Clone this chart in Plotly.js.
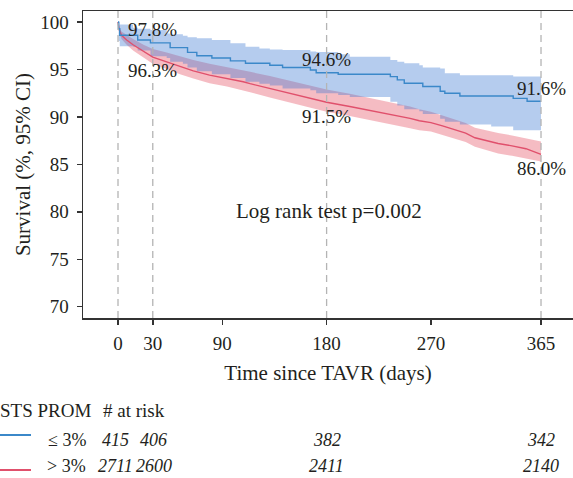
<!DOCTYPE html>
<html>
<head>
<meta charset="utf-8">
<script src="https://cdn.plot.ly/plotly-3.0.1.min.js"></script>
<style>
html,body{margin:0;padding:0;background:#fff;}
#chart{width:573px;height:478px;}
</style>
</head>
<body>
<div id="chart"></div>
<script>
// ---- Data ----
// STS PROM <= 3% (step KM curve with 95% CI)
const blueDays  = [0, 0.5, 1.5, 13, 17, 28, 42, 45, 56, 60, 68, 81, 97, 110, 122, 131, 142, 166, 171, 190, 200, 235, 241, 247, 260, 263, 278, 282, 295, 322, 341, 353, 365];
const blueSurv  = [100, 99.3, 98.6, 98.6, 98.1, 97.8, 97.8, 97.3, 97.3, 96.8, 96.45, 96.2, 95.9, 95.65, 95.65, 95.45, 95.2, 94.95, 94.65, 94.5, 94.5, 94.25, 93.9, 93.55, 93.55, 93.2, 92.7, 92.5, 92.2, 92.2, 91.95, 91.65, 91.65];
const blueUpper = [100, 100, 99.75, 99.4, 99.3, 99.15, 98.8, 98.7, 98.56, 98.4, 98.28, 98.1, 97.75, 97.4, 97.2, 97.1, 97.05, 96.9, 96.85, 96.6, 96.35, 96.0, 95.8, 95.65, 95.45, 95.2, 95.1, 94.6, 94.4, 94.4, 94.25, 94.25, 94.25];
const blueLower = [100, 98.0, 97.45, 97.4, 97.0, 96.4, 96.2, 95.8, 95.6, 95.2, 94.8, 94.5, 94.1, 93.7, 93.5, 93.3, 93.0, 92.8, 92.5, 92.3, 92.1, 91.6, 91.2, 90.8, 90.6, 90.3, 89.8, 89.5, 89.2, 89.0, 88.6, 88.6, 88.6];

// STS PROM > 3%
const redDays  = [0, 1, 3, 7.5, 13, 22, 30, 42, 53.5, 65, 79, 94, 108, 114, 131, 148, 166, 180, 200, 217, 235, 252, 260, 270, 280, 290, 300, 308, 318, 328, 340, 352, 365];
const redSurv  = [100, 99.2, 98.6, 98.1, 97.6, 96.9, 96.3, 95.8, 95.3, 94.85, 94.4, 94.05, 93.7, 93.5, 93.0, 92.5, 92.0, 91.55, 91.1, 90.7, 90.2, 89.85, 89.6, 89.4, 89.05, 88.7, 88.3, 87.8, 87.5, 87.2, 86.95, 86.65, 86.05];
const redUpper = [100, 99.5, 99.0, 98.65, 98.2, 97.6, 97.15, 96.8, 96.4, 96.0, 95.6, 95.25, 94.95, 94.75, 94.3, 93.8, 93.3, 92.9, 92.45, 92.0, 91.5, 91.1, 90.8, 90.55, 90.15, 89.75, 89.35, 88.85, 88.55, 88.3, 88.05, 87.75, 87.4];
const redLower = [100, 98.9, 98.2, 97.6, 97.0, 96.3, 95.6, 95.05, 94.5, 94.05, 93.55, 93.2, 92.8, 92.6, 92.05, 91.55, 91.0, 90.55, 90.1, 89.7, 89.2, 88.8, 88.6, 88.45, 88.1, 87.75, 87.35, 86.85, 86.5, 86.15, 85.9, 85.65, 85.3];

// Labelled survival estimates
const labelDays = [30, 30, 180, 180, 365, 365];
const labelVals = [97.8, 96.3, 94.6, 91.5, 91.6, 86.0];
const labelSide = [1, -1, 1, -1, 1, -1];

// Reference (dashed) lines and axis ticks
const refDays = [0, 30, 180, 365];
const xTicks = [0, 30, 90, 180, 270, 365];
const yTicks = [70, 75, 80, 85, 90, 95, 100];

// Number at risk table
const riskDays = [0, 30, 180, 365];
const riskLow  = [415, 406, 382, 342];
const riskHigh = [2711, 2600, 2411, 2140];
const groupNames = ['\u2264 3%', '> 3%'];

const logRankText = 'Log rank test p=0.002';

// ---- Styles ----
const FONT = 'Liberation Serif, Times New Roman, serif';
const TXT = '#231f20';
const BLUE = '#3b88c9';
const RED = '#e0506c';
const BLUE_FILL = 'rgba(60,120,210,0.38)';
const RED_FILL = 'rgba(228,70,90,0.36)';
const riskShift = [-3, 1, 0, 0];   // small horizontal nudges of the table columns (px)

const traces = [
  {x: redDays, y: redLower, mode: 'lines', line: {width: 0, color: RED}, hoverinfo: 'skip', showlegend: false},
  {x: redDays, y: redUpper, mode: 'lines', line: {width: 0, color: RED}, fill: 'tonexty', fillcolor: RED_FILL, hoverinfo: 'skip', showlegend: false},
  {x: blueDays, y: blueLower, mode: 'lines', line: {width: 0, color: BLUE, shape: 'hv'}, hoverinfo: 'skip', showlegend: false},
  {x: blueDays, y: blueUpper, mode: 'lines', line: {width: 0, color: BLUE, shape: 'hv'}, fill: 'tonexty', fillcolor: BLUE_FILL, hoverinfo: 'skip', showlegend: false},
  {x: redDays, y: redSurv, mode: 'lines', line: {width: 1.4, color: RED}, showlegend: false},
  {x: blueDays, y: blueSurv, mode: 'lines', line: {width: 1.4, color: BLUE, shape: 'hv'}, showlegend: false}
];

const W = 573, H = 478;
const M = {l: 83, r: 0, t: 11, b: 160};
const plotW = W - M.l - M.r, plotH = H - M.t - M.b;
const px2paperX = px => (px - M.l) / plotW;
const py2paperY = py => (H - M.b - py) / plotH;

const shapes = refDays.map(d => ({
  type: 'line', xref: 'x', yref: 'paper', x0: d, x1: d, y0: 0, y1: 1,
  line: {color: '#b4b4b4', width: 1.3, dash: '7px,5px'}
}));

const rowY = [py2paperY(440), py2paperY(466)];
const lineY = [py2paperY(435), py2paperY(470)];
[BLUE, RED].forEach((c, i) => {
  shapes.push({type: 'line', xref: 'paper', yref: 'paper', x0: px2paperX(-2), x1: px2paperX(31), y0: lineY[i], y1: lineY[i], line: {color: c, width: 2}});
});

const annotations = [];
labelDays.forEach((d, i) => {
  annotations.push({x: d, y: labelVals[i], xref: 'x', yref: 'y', text: labelVals[i].toFixed(1) + '%', showarrow: false,
    yshift: 13.5 * labelSide[i], xanchor: 'center', yanchor: 'middle', font: {family: FONT, size: 19, color: TXT}});
});
annotations.push({x: 182, y: 80.1, xref: 'x', yref: 'y', text: logRankText, showarrow: false, font: {family: FONT, size: 21, color: TXT}});

// risk table
annotations.push({x: px2paperX(93), y: py2paperY(410.5), xref: 'paper', yref: 'paper', text: 'STS PROM', showarrow: false, xanchor: 'right', yanchor: 'middle', font: {family: FONT, size: 19, color: TXT}});
annotations.push({x: px2paperX(101), y: py2paperY(410.5), xref: 'paper', yref: 'paper', text: '# at risk', showarrow: false, xanchor: 'left', yanchor: 'middle', font: {family: FONT, size: 19, color: TXT}});
groupNames.forEach((g, i) => {
  annotations.push({x: px2paperX(87), y: rowY[i], xref: 'paper', yref: 'paper', text: g, showarrow: false, xanchor: 'right', yanchor: 'middle', borderpad: 0, font: {family: FONT, size: 18, color: TXT}});
});
[riskLow, riskHigh].forEach((row, i) => {
  row.forEach((n, j) => {
    annotations.push({x: riskDays[j], y: rowY[i], xref: 'x', yref: 'paper', xshift: riskShift[j], text: '<i>' + n + '</i>', showarrow: false, xanchor: 'center', yanchor: 'middle', borderpad: 0, font: {family: FONT, size: 18, color: TXT}});
  });
});

const layout = {
  width: W, height: H,
  margin: M,
  paper_bgcolor: '#fff', plot_bgcolor: '#fff',
  showlegend: false,
  font: {family: FONT, size: 19, color: TXT},
  xaxis: {
    range: [-30.2, 392.6], tickvals: xTicks, ticktext: xTicks.map(String),
    showgrid: false, zeroline: false, showline: true, linecolor: '#333', linewidth: 1.5, mirror: true,
    ticks: 'outside', ticklen: 5, tickwidth: 1.5, tickcolor: '#333',
    tickfont: {family: FONT, size: 19, color: TXT}, ticklabelstandoff: 3,
    title: {text: 'Time since TAVR (days)', font: {family: FONT, size: 21, color: TXT}, standoff: 12}
  },
  yaxis: {
    range: [68.81, 101.16], tickvals: yTicks, ticktext: yTicks.map(String),
    showgrid: false, zeroline: false, showline: true, linecolor: '#333', linewidth: 1.5,
    ticks: 'outside', ticklen: 5, tickwidth: 1.5, tickcolor: '#333',
    tickfont: {family: FONT, size: 19, color: TXT}, ticklabelstandoff: 4,
    title: {text: 'Survival (%, 95% CI)', font: {family: FONT, size: 21, color: TXT}, standoff: 4}
  },
  shapes: shapes,
  annotations: annotations
};

Plotly.newPlot('chart', traces, layout, {displayModeBar: false, staticPlot: true});
</script>
</body>
</html>
